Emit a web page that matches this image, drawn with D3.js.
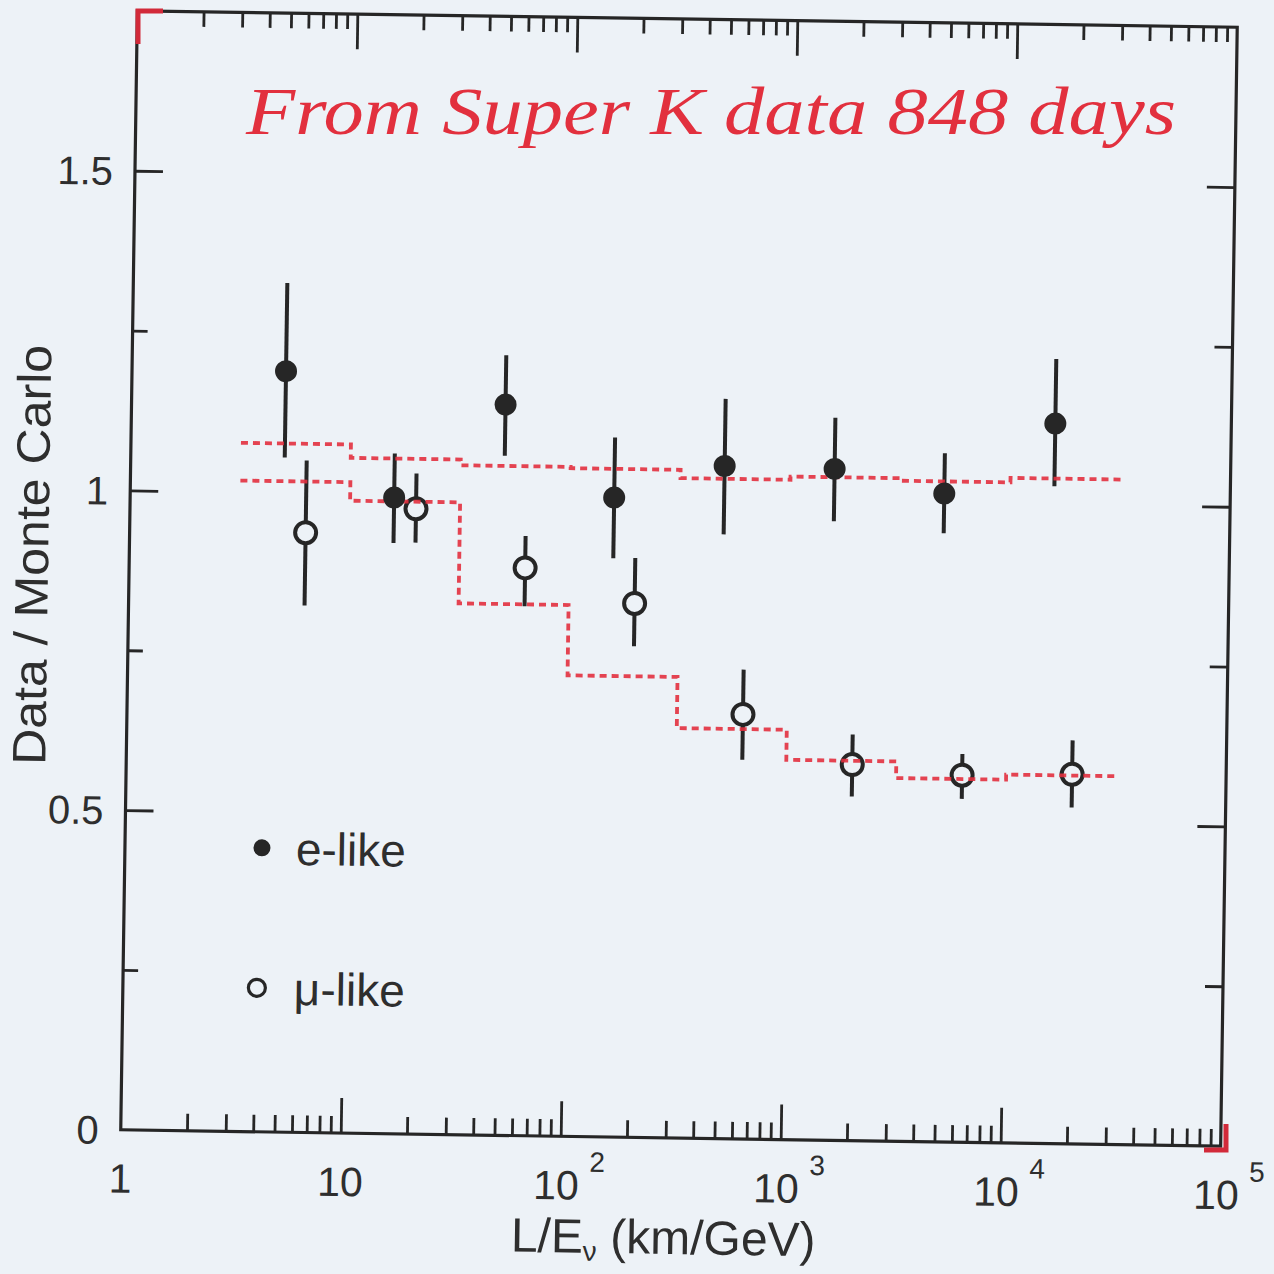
<!DOCTYPE html>
<html><head><meta charset="utf-8">
<script src="https://cdn.jsdelivr.net/npm/d3@7"></script>
<style>html,body{margin:0;padding:0;background:#edf2f7;} svg{display:block}</style>
</head><body>
<svg id="chart" width="1274" height="1274"></svg>
<script>
// ---- data ----
const binEdgesLog   = [0.5, 1, 1.5, 2, 2.5, 3, 3.5, 4, 4.5];   // log10(L/E) bin edges
const eLikeLogX     = [0.7, 1.2, 1.7, 2.2, 2.7, 3.2, 3.7, 4.2];
const eLikeRatio    = [1.19, 0.995, 1.143, 1.0, 1.052, 1.05, 1.014, 1.126];
const eLikeErrHigh  = [1.328, 1.064, 1.22, 1.094, 1.157, 1.13, 1.077, 1.227];
const eLikeErrLow   = [1.055, 0.924, 1.063, 0.905, 0.945, 0.968, 0.952, 1.028];
const muLikeLogX    = [0.8, 1.3, 1.8, 2.3, 2.8, 3.3, 3.8, 4.3];
const muLikeRatio   = [0.938, 0.978, 0.888, 0.835, 0.664, 0.588, 0.574, 0.578];
const muLikeErrHigh = [1.051, 1.033, 0.938, 0.906, 0.734, 0.635, 0.607, 0.631];
const muLikeErrLow  = [0.824, 0.925, 0.828, 0.768, 0.593, 0.538, 0.537, 0.526];
const eLikeMC       = [1.077, 1.056, 1.047, 1.045, 1.032, 1.037, 1.033, 1.040];
const muLikeMC      = [1.018, 0.989, 0.831, 0.721, 0.641, 0.594, 0.568, 0.576];
const yMajorTicks   = [0.5, 1, 1.5];
const yMinorTicks   = [0.25, 0.75, 1.25];
const yTickLabels   = [[0, "0"], [0.5, "0.5"], [1, "1"], [1.5, "1.5"]];
const xMajorTicks   = [10, 100, 1000, 10000];
const xTickExponents = [0, 1, 2, 3, 4, 5];
const legendItems   = ["e-like", "\u03bc-like"];
const yTitle = "Data / Monte Carlo";
const noteText = "From  Super K data  848 days";

// ---- layout ----
const W = 1274, H = 1274;
const L = 129, R = 1229, T = 19, B = 1138;
const BG = "#edf2f7", INK = "#262626", RED = "#e2303e";

const svg = d3.select("#chart");
svg.append("rect").attr("width", W).attr("height", H).attr("fill", BG);

const g = svg.append("g").attr("transform", "rotate(0.85 679 578)");

const x = d3.scaleLog().domain([1, 1e5]).range([L, R]);
const y = d3.scaleLinear().domain([0, 1.75]).range([B, T]);

const xMinorTicks = [];
[1, 10, 100, 1000, 10000].forEach(d => { for (let m = 2; m <= 9; m++) xMinorTicks.push(d * m); });

function styleAxis(sel) {
  sel.select(".domain").remove();
  sel.selectAll(".tick line").attr("stroke", INK).attr("stroke-width", 2.8);
  sel.selectAll(".tick text").remove();
}
// bottom
g.append("g").attr("transform", `translate(0,${B})`)
  .call(d3.axisBottom(x).tickValues(xMajorTicks).tickSize(-35).tickFormat("")).call(styleAxis);
g.append("g").attr("transform", `translate(0,${B})`)
  .call(d3.axisBottom(x).tickValues(xMinorTicks).tickSize(-17).tickFormat("")).call(styleAxis);
// top
g.append("g").attr("transform", `translate(0,${T})`)
  .call(d3.axisTop(x).tickValues(xMajorTicks).tickSize(-35).tickFormat("")).call(styleAxis);
g.append("g").attr("transform", `translate(0,${T})`)
  .call(d3.axisTop(x).tickValues(xMinorTicks).tickSize(-15).tickFormat("")).call(styleAxis);
// left
g.append("g").attr("transform", `translate(${L},0)`)
  .call(d3.axisLeft(y).tickValues(yMajorTicks).tickSize(-28).tickFormat("")).call(styleAxis);
g.append("g").attr("transform", `translate(${L},0)`)
  .call(d3.axisLeft(y).tickValues(yMinorTicks).tickSize(-15).tickFormat("")).call(styleAxis);
// right
g.append("g").attr("transform", `translate(${R},0)`)
  .call(d3.axisRight(y).tickValues(yMajorTicks).tickSize(-28).tickFormat("")).call(styleAxis);
g.append("g").attr("transform", `translate(${R},0)`)
  .call(d3.axisRight(y).tickValues(yMinorTicks).tickSize(-18).tickFormat("")).call(styleAxis);

// frame
g.append("rect").attr("x", L).attr("y", T).attr("width", R - L).attr("height", B - T)
  .attr("fill", "none").attr("stroke", INK).attr("stroke-width", 3.2);

const FONT = "'Liberation Sans', Arial, Helvetica, sans-serif";
const TXT = "#2e2e2e";

// y tick labels
g.selectAll(".ylab").data(yTickLabels).join("text")
  .attr("x", L - 22).attr("y", d => y(d[0])).attr("dy", "0.36em")
  .attr("text-anchor", "end").attr("font-family", FONT).attr("font-size", 40)
  .attr("fill", TXT).text(d => d[1]);

// x tick labels
xTickExponents.forEach(e => {
  const cx = x(Math.pow(10, e));
  const t = g.append("text").attr("font-family", FONT).attr("fill", TXT)
    .attr("font-size", 41).attr("y", B + 63);
  if (e === 0) { t.attr("x", cx).attr("text-anchor", "middle").text("1"); }
  else if (e === 1) { t.attr("x", cx).attr("text-anchor", "middle").text("10"); }
  else {
    t.attr("x", cx - 4).attr("text-anchor", "middle").text("10");
    g.append("text").attr("font-family", FONT).attr("fill", TXT).attr("font-size", 28)
      .attr("x", cx + 29).attr("y", B + 35).text(String(e));
  }
});

// axis titles
const xt = g.append("text").attr("x", (L + R) / 2 - 6).attr("y", B + 116)
  .attr("text-anchor", "middle").attr("font-family", FONT).attr("font-size", 48).attr("fill", TXT);
xt.append("tspan").text("L/E");
xt.append("tspan").attr("font-size", 28).attr("dy", 8).text("\u03bd");
xt.append("tspan").attr("dy", -8).text(" (km/GeV)");

g.append("text").attr("transform", `translate(${L - 81},${(T + B) / 2 - 14}) rotate(-90)`)
  .attr("text-anchor", "middle").attr("font-family", FONT).attr("font-size", 47)
  .attr("textLength", 420).attr("lengthAdjust", "spacingAndGlyphs")
  .attr("fill", TXT).text(yTitle);

// ---- marks ----
const eLike = eLikeLogX.map((lx, i) => ({ x: Math.pow(10, lx), v: eLikeRatio[i], hi: eLikeErrHigh[i], lo: eLikeErrLow[i] }));
const muLike = muLikeLogX.map((lx, i) => ({ x: Math.pow(10, lx), v: muLikeRatio[i], hi: muLikeErrHigh[i], lo: muLikeErrLow[i] }));

function stepPoints(vals) {
  const pts = [];
  vals.forEach((v, i) => {
    pts.push([Math.pow(10, binEdgesLog[i]), v]);
    pts.push([Math.pow(10, binEdgesLog[i + 1]), v]);
  });
  return pts;
}
const line = d3.line().x(d => x(d[0])).y(d => y(d[1]));

// error bars
g.selectAll(".err").data(eLike.concat(muLike)).join("line")
  .attr("x1", d => x(d.x)).attr("x2", d => x(d.x))
  .attr("y1", d => y(d.hi)).attr("y2", d => y(d.lo))
  .attr("stroke", INK).attr("stroke-width", 4);

// open circles (mu-like)
g.selectAll(".mu").data(muLike).join("circle")
  .attr("cx", d => x(d.x)).attr("cy", d => y(d.v)).attr("r", 10.5)
  .attr("fill", BG).attr("stroke", INK).attr("stroke-width", 4);

// MC expectations (red dashed steps)
[eLikeMC, muLikeMC].forEach(vals => {
  g.append("path").attr("d", line(stepPoints(vals)))
    .attr("fill", "none").attr("stroke", RED).attr("stroke-width", 3.8)
    .attr("stroke-dasharray", "7,5").attr("opacity", 0.9);
});

// filled circles (e-like)
g.selectAll(".e").data(eLike).join("circle")
  .attr("cx", d => x(d.x)).attr("cy", d => y(d.v)).attr("r", 11)
  .attr("fill", INK);

// legend
g.append("circle").attr("cx", 266).attr("cy", 854).attr("r", 8.5).attr("fill", INK);
g.append("circle").attr("cx", 263).attr("cy", 994).attr("r", 8.5).attr("fill", "none")
  .attr("stroke", INK).attr("stroke-width", 3.2);
legendItems.forEach((t, i) => {
  g.append("text").attr("x", 300).attr("y", 854 + i * 140).attr("dy", "0.36em")
    .attr("font-family", FONT).attr("font-size", 46).attr("fill", TXT).text(t);
});

// handwritten note (red)
svg.append("text").attr("x", 246).attr("y", 134)
  .attr("font-family", "'Liberation Serif', 'DejaVu Serif', serif").attr("font-style", "italic")
  .attr("font-size", 68).attr("fill", RED)
  .attr("textLength", 930).attr("lengthAdjust", "spacingAndGlyphs").text(noteText);

// red corner marks on scan
svg.append("path").attr("d", "M138,44 L138,11 L163,11").attr("fill", "none")
  .attr("stroke", "#d22a3a").attr("stroke-width", 5);
svg.append("path").attr("d", "M1226,1124 L1226,1150 L1204,1150").attr("fill", "none")
  .attr("stroke", "#d22a3a").attr("stroke-width", 5);
</script>
</body></html>
